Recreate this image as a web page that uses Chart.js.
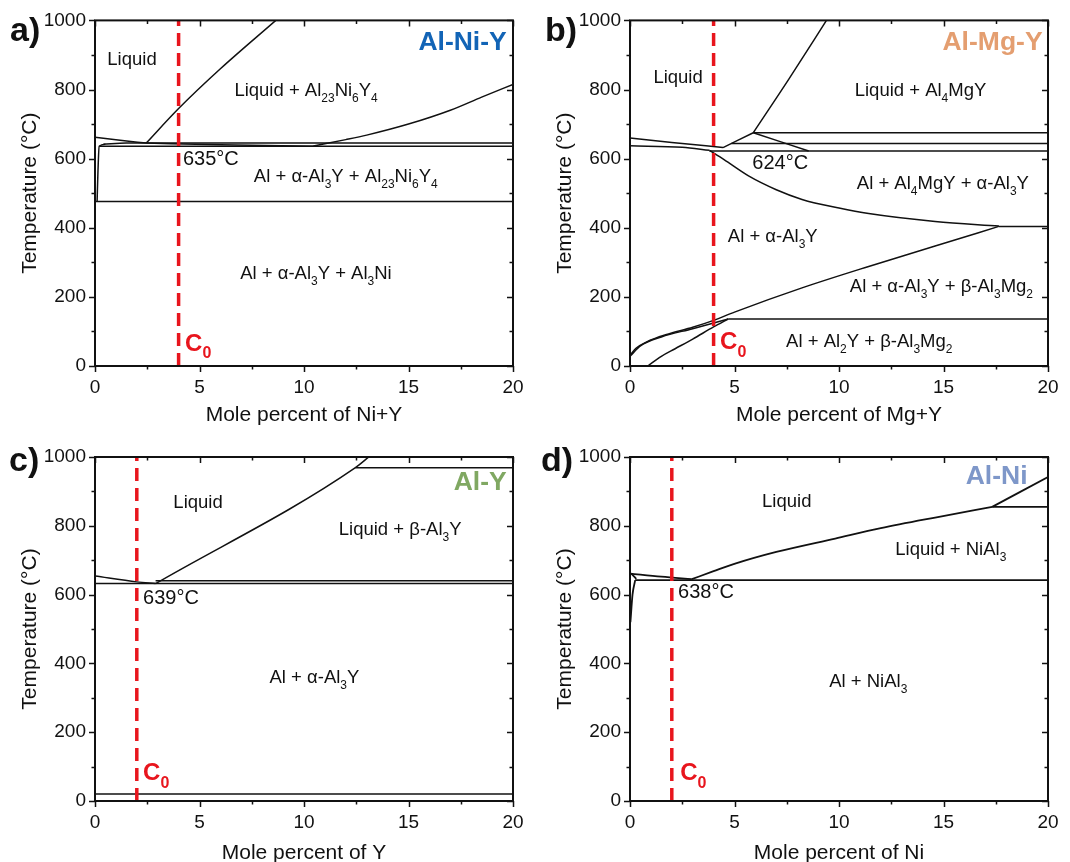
<!DOCTYPE html>
<html>
<head>
<meta charset="utf-8">
<script src="https://cdn.jsdelivr.net/npm/chart.js@4.4.0/dist/chart.umd.min.js"></script>
<style>
  html, body { margin: 0; padding: 0; background: #fff; }
  #wrap { position: relative; width: 1070px; height: 862px; overflow: hidden; background: #fff; }
  canvas { position: absolute; }
</style>
</head>
<body>
<div id="wrap">
  <canvas id="panelA" width="535" height="430" style="left:0;top:0"></canvas>
  <canvas id="panelB" width="535" height="430" style="left:535px;top:0"></canvas>
  <canvas id="panelC" width="535" height="432" style="left:0;top:430px"></canvas>
  <canvas id="panelD" width="535" height="432" style="left:535px;top:430px"></canvas>
</div>
<script>
// ---- a) Al-Ni-Y  (x = mole % Ni+Y, y = T in °C)
const aLiquidusAl = [[0, 662], [1.2, 653], [2.45, 645]];
const aLiquidusTernary = [[2.45, 645], [4, 745], [6, 860], [8.65, 1000]];
const aValley = [[2.45, 645], [6, 640], [10.4, 636]];
const aLiquidusRight = [[10.4, 636], [12, 655], [13, 668], [15, 700], [17, 740], [18.5, 778], [20, 815]];
const aUpperLine = [[0.4, 642], [1.5, 645], [20, 645]];
const aEutecticLine = [[0.2, 636], [20, 636]];
const aSolvus = [[0.1, 476], [0.14, 560], [0.2, 636], [0.5, 642]];
const aLowLine = [[0, 476], [20, 476]];
const aC0 = 4;
const aPhaseLabels = [
  ['Liquid', 1.77, 887],
  ['Liquid + Al_23Ni_6Y_4', 10.1, 796],
  ['Al + α-Al_3Y + Al_23Ni_6Y_4', 12.0, 546],
  ['Al + α-Al_3Y + Al_3Ni', 10.57, 266]
];
const aTempLabel = ['635°C', 4.21, 598];

// ---- b) Al-Mg-Y
const bLiquidusAl = [[0, 660], [2, 647], [4.45, 632]];
const bLowerBranch = [[0, 637], [2.5, 633], [3.8, 624]];
const bPeritecticLeft = [[4.45, 632], [5.9, 675]];
const bPeritecticRight = [[5.9, 675], [8.55, 622]];
const bLiquidusAl4MgY = [[5.9, 675], [7.6, 830], [9.4, 1000]];
const bLine675 = [[5.9, 675], [20, 675]];
const bLine644 = [[4.85, 644], [20, 644]];
const bLine622 = [[3.8, 622], [20, 622]];
const bSolvusAl3Y = [[3.8, 624], [4.5, 597], [5.67, 550], [7, 510], [8.23, 482], [10, 457], [11.42, 441], [14.6, 418], [17.65, 405]];
const bLine404 = [[17.65, 404], [20, 404]];
const bBetaBoundary = [[0, 31], [0.3, 52], [0.8, 70], [1.8, 92], [3, 112], [4, 132], [5, 156], [8.23, 226], [11.42, 288], [14.6, 347], [17.65, 404]];
const bBetaBoundary2 = [[0, 28], [0.5, 58], [1.5, 84], [3, 108], [4.7, 136]];
const bAl2YBoundary = [[0.85, 0], [1.5, 28], [2.16, 50], [3, 78], [4, 113], [4.7, 136]];
const bLine136 = [[4.7, 136], [20, 136]];
const bC0 = 4;
const bPhaseLabels = [
  ['Liquid', 2.3, 835],
  ['Liquid + Al_4MgY', 13.9, 795],
  ['Al + Al_4MgY + α-Al_3Y', 14.97, 526],
  ['Al + α-Al_3Y', 6.83, 373],
  ['Al + α-Al_3Y + β-Al_3Mg_2', 14.9, 228],
  ['Al + Al_2Y + β-Al_3Mg_2', 11.45, 69]
];
const bTempLabel = ['624°C', 5.85, 587];

// ---- c) Al-Y
const cLiquidusAl = [[0, 654], [2, 637], [2.9, 632]];
const cLiquidusAl3Y = [[2.9, 632], [12.46, 969], [13.1, 1000]];
const cEutecticLine = [[0, 632], [20, 632]];
const cUpperLine = [[2.9, 640], [20, 640]];
const cPeritecticLine = [[12.46, 969], [20, 969]];
const cLowLine = [[0, 20], [20, 20]];
const cC0 = 2;
const cPhaseLabels = [
  ['Liquid', 4.93, 867],
  ['Liquid + β-Al_3Y', 14.6, 788],
  ['Al + α-Al_3Y', 10.5, 357]
];
const cTempLabel = ['639°C', 2.3, 590];

// ---- d) Al-Ni
const dLiquidusAl = [[0, 661], [1.5, 652], [2.96, 645]];
const dSolidus = [[0.05, 662], [0.3, 646]];
const dSolvus = [[0.02, 520], [0.12, 600], [0.25, 642]];
const dEutecticLine = [[0.25, 642], [20, 642]];
const dLiquidusNiAl3 = [[2.96, 645], [4, 668], [5.03, 690], [7, 724], [9.82, 763], [12, 793], [14.6, 824], [17.33, 855]];
const dLiquidusHigh = [[17.33, 855], [20, 942]];
const dPeritecticLine = [[17.33, 855], [20, 855]];
const dC0 = 2;
const dPhaseLabels = [
  ['Liquid', 7.5, 869],
  ['Liquid + NiAl_3', 15.35, 730],
  ['Al + NiAl_3', 11.4, 346]
];
const dTempLabel = ['638°C', 2.3, 605];

const FONT = '"Liberation Sans", Arial, sans-serif';
const RED = '#e8151d';
const INK = '#111';

// draw text with "_digits" rendered as subscripts
function drawRich(ctx, text, x, y, size, align, bold, color) {
  const parts = [];
  const re = /_(\d+)/g;
  let last = 0, m;
  while ((m = re.exec(text))) {
    if (m.index > last) parts.push({ t: text.slice(last, m.index), sub: false });
    parts.push({ t: m[1], sub: true });
    last = re.lastIndex;
  }
  if (last < text.length) parts.push({ t: text.slice(last), sub: false });

  const w = bold ? 'bold ' : '';
  const fMain = w + size + 'px ' + FONT;
  const fSub = w + Math.round(size * 0.66) + 'px ' + FONT;
  let total = 0;
  parts.forEach(p => {
    ctx.font = p.sub ? fSub : fMain;
    p.w = ctx.measureText(p.t).width;
    total += p.w;
  });
  let cx = align === 'center' ? x - total / 2 : (align === 'right' ? x - total : x);
  ctx.fillStyle = color;
  ctx.textAlign = 'left';
  ctx.textBaseline = 'middle';
  parts.forEach(p => {
    ctx.font = p.sub ? fSub : fMain;
    ctx.fillText(p.t, cx, p.sub ? y + size * 0.42 : y);
    cx += p.w;
  });
}

const framePlugin = {
  id: 'frame',
  afterDatasetsDraw(chart) {
    const { ctx, chartArea: a, scales: { x, y } } = chart;
    ctx.save();
    ctx.strokeStyle = INK;
    ctx.lineWidth = 2;
    ctx.strokeRect(a.left, a.top, a.right - a.left, a.bottom - a.top);
    ctx.lineWidth = 1.5;
    ctx.beginPath();
    for (let v = 0; v <= 20; v += 2.5) {
      const px = Math.round(x.getPixelForValue(v)) + 0.5;
      const len = v % 5 === 0 ? 6 : 3.5;
      ctx.moveTo(px, a.bottom); ctx.lineTo(px, a.bottom + len);
      ctx.moveTo(px, a.top); ctx.lineTo(px, a.top + len);
    }
    for (let v = 0; v <= 1000; v += 100) {
      const py = Math.round(y.getPixelForValue(v)) + 0.5;
      const len = v % 200 === 0 ? 6 : 3.5;
      ctx.moveTo(a.left, py); ctx.lineTo(a.left - len, py);
      ctx.moveTo(a.right, py); ctx.lineTo(a.right - len, py);
    }
    ctx.stroke();
    ctx.restore();
  }
};

const textPlugin = {
  id: 'phaseText',
  afterDraw(chart) {
    const o = chart.options.plugins.phaseText;
    const { ctx, scales: { x, y } } = chart;
    ctx.save();
    o.phases.forEach(l => drawRich(ctx, l[0], x.getPixelForValue(l[1]), y.getPixelForValue(l[2]), 18.5, 'center', false, INK));
    drawRich(ctx, o.temp[0], x.getPixelForValue(o.temp[1]), y.getPixelForValue(o.temp[2]), 20, 'left', false, INK);
    drawRich(ctx, 'C_0', x.getPixelForValue(o.c0Label[0]), y.getPixelForValue(o.c0Label[1]), 24, 'left', true, RED);
    drawRich(ctx, o.title[0], x.getPixelForValue(o.title[1]), y.getPixelForValue(o.title[2]), 26.5, 'right', true, o.titleColor);
    drawRich(ctx, o.letter, o.letterX, 32, 34, 'left', true, INK);
    ctx.restore();
  }
};

function makePanel(id, p) {
  const datasets = [{
    data: [{ x: p.c0, y: 0 }, { x: p.c0, y: 1000 }],
    showLine: true, borderColor: RED, borderWidth: 3.5, borderDash: [13, 7], pointRadius: 0
  }];
  p.curves.forEach(c => datasets.push({
    data: c.map(pt => ({ x: pt[0], y: pt[1] })),
    showLine: true, borderColor: INK, borderWidth: p.lineWidth || 1.5, pointRadius: 0, fill: false,
    cubicInterpolationMode: 'monotone'
  }));

  new Chart(document.getElementById(id).getContext('2d'), {
    type: 'scatter',
    data: { datasets: datasets },
    options: {
      responsive: false,
      animation: false,
      layout: { padding: { top: p.top, right: 22, left: 0, bottom: 0 } },
      plugins: {
        legend: { display: false },
        tooltip: { enabled: false },
        phaseText: p.text
      },
      scales: {
        x: {
          type: 'linear', min: 0, max: 20,
          afterFit: s => { s.height = p.xAxisH; },
          grid: { display: false, drawTicks: false },
          border: { display: false },
          ticks: { stepSize: 5, padding: 10, maxRotation: 0, color: INK, font: { size: 19, family: FONT },
                   callback: v => String(v) },
          title: {
            display: true, text: p.xTitle, color: INK,
            font: { size: 21, family: FONT, lineHeight: 1 },
            padding: { top: 0, bottom: p.xTitlePad }
          }
        },
        y: {
          type: 'linear', min: 0, max: 1000,
          afterFit: s => { s.width = 95; },
          grid: { display: false, drawTicks: false },
          border: { display: false },
          ticks: { stepSize: 200, padding: 9, color: INK, font: { size: 19, family: FONT },
                   callback: v => String(v) },
          title: {
            display: true, text: 'Temperature (°C)', color: INK,
            font: { size: 21, family: FONT, lineHeight: 1 },
            padding: { top: 19.5, bottom: 0 }
          }
        }
      }
    },
    plugins: [framePlugin, textPlugin]
  });
}

makePanel('panelA', {
  c0: aC0, top: 20, xAxisH: 64, xTitlePad: 4.5, xTitle: 'Mole percent of Ni+Y',
  curves: [aLiquidusAl, aLiquidusTernary, aValley, aLiquidusRight, aUpperLine, aEutecticLine, aSolvus, aLowLine],
  text: { phases: aPhaseLabels, temp: aTempLabel, c0Label: [4.31, 64], title: ['Al-Ni-Y', 19.7, 936], titleColor: '#1264b6', letter: 'a)', letterX: 10 }
});

makePanel('panelB', {
  c0: bC0, top: 20, xAxisH: 64, xTitlePad: 4.5, xTitle: 'Mole percent of Mg+Y',
  curves: [bLiquidusAl, bLowerBranch, bPeritecticLeft, bPeritecticRight, bLiquidusAl4MgY, bLine675, bLine644, bLine622,
           bSolvusAl3Y, bLine404, bBetaBoundary, bBetaBoundary2, bAl2YBoundary, bLine136],
  text: { phases: bPhaseLabels, temp: bTempLabel, c0Label: [4.31, 69], title: ['Al-Mg-Y', 19.74, 936], titleColor: '#e49e70', letter: 'b)', letterX: 10 }
});

makePanel('panelC', {
  c0: cC0, top: 27, xAxisH: 61, xTitlePad: -1.5, xTitle: 'Mole percent of Y',
  curves: [cLiquidusAl, cLiquidusAl3Y, cEutecticLine, cUpperLine, cPeritecticLine, cLowLine],
  text: { phases: cPhaseLabels, temp: cTempLabel, c0Label: [2.3, 81], title: ['Al-Y', 19.7, 924], titleColor: '#80a862', letter: 'c)', letterX: 9 }
});

makePanel('panelD', {
  c0: dC0, top: 27, xAxisH: 61, xTitlePad: -1.5, xTitle: 'Mole percent of Ni', lineWidth: 1.8,
  curves: [dLiquidusAl, dSolidus, dSolvus, dEutecticLine, dLiquidusNiAl3, dLiquidusHigh, dPeritecticLine],
  text: { phases: dPhaseLabels, temp: dTempLabel, c0Label: [2.4, 81], title: ['Al-Ni', 19.02, 942], titleColor: '#7e97c9', letter: 'd)', letterX: 6 }
});
</script>
</body>
</html>
